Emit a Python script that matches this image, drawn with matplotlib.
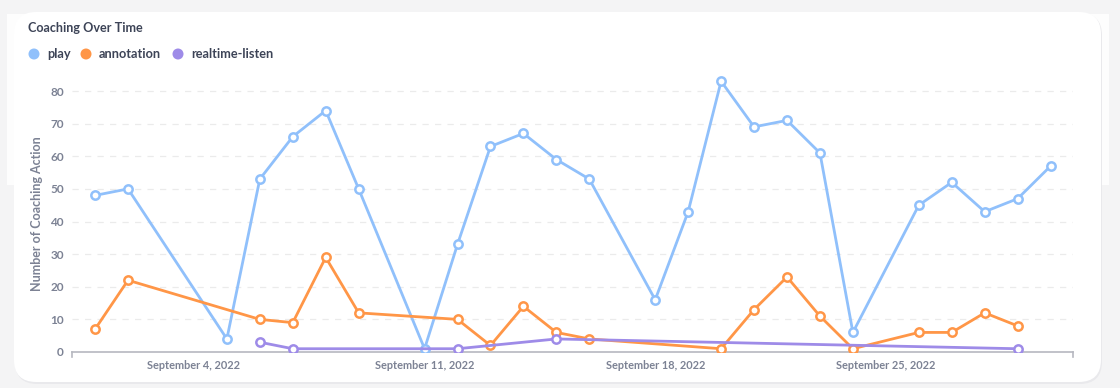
import matplotlib
matplotlib.use("Agg")
import matplotlib.pyplot as plt
import matplotlib.dates as mdates
from matplotlib.patches import FancyBboxPatch, Rectangle, Ellipse
from datetime import datetime, timedelta

plt.rcParams['font.family'] = ['Lato', 'DejaVu Sans']

# dados
play_days = [1, 2, 5, 6, 7, 8, 9, 11, 12, 13, 14, 15, 16, 18, 19, 20, 21, 22, 23, 24, 26, 27, 28, 29, 30]
play_vals = [48, 50, 4, 53, 66, 74, 50, 1, 33, 63, 67, 59, 53, 16, 43, 83, 69, 71, 61, 6, 45, 52, 43, 47, 57]

annot_days = [1, 2, 6, 7, 8, 9, 12, 13, 14, 15, 16, 20, 21, 22, 23, 24, 26, 27, 28, 29]
annot_vals = [7, 22, 10, 9, 29, 12, 10, 2, 14, 6, 4, 1, 13, 23, 11, 1, 6, 6, 12, 8]

listen_days = [6, 7, 12, 15, 29]
listen_vals = [3, 1, 1, 4, 1]

tick_days = [4, 11, 18, 25]
y_ticks = [0, 10, 20, 30, 40, 50, 60, 70, 80]

series = [
    ('play', play_days, play_vals, '#90C0FB'),
    ('annotation', annot_days, annot_vals, '#FF9647'),
    ('realtime-listen', listen_days, listen_vals, '#9E8BE8'),
]

def to_date(d):
    return datetime(2022, 9, d)

W, H = 1120, 388
fig = plt.figure(figsize=(W / 100, H / 100), dpi=100)
fig.patch.set_facecolor('#f4f4f5')

# cartoes de fundo
fig.patches.append(Rectangle((7 / W, 1 - 185 / H), 1102 / W, 171 / H, transform=fig.transFigure,
                             facecolor='#fdfdfd', edgecolor='none', zorder=-3))
fig.patches.append(FancyBboxPatch((15 / W, 1 - 384 / H), 1087 / W, 371 / H, transform=fig.transFigure,
                                  boxstyle='round,pad=0,rounding_size=0.02', mutation_aspect=W / H,
                                  facecolor='#e9e9ec', edgecolor='none', zorder=-2))
fig.patches.append(FancyBboxPatch((14 / W, 1 - 382 / H), 1087 / W, 370 / H, transform=fig.transFigure,
                                  boxstyle='round,pad=0,rounding_size=0.02', mutation_aspect=W / H,
                                  facecolor='#ffffff', edgecolor='none', zorder=-1))

# eixo
ax_left, ax_right = 72, 1073
ax_bottom, ax_top = 352, 74.7
ax = fig.add_axes([ax_left / W, 1 - ax_bottom / H, (ax_right - ax_left) / W, (ax_bottom - ax_top) / H])
ax.set_facecolor('none')

for name, days, vals, color in series:
    ax.plot([to_date(d) for d in days], vals, color=color, linewidth=2,
            marker='o', markersize=6, markerfacecolor='white', markeredgecolor=color,
            markeredgewidth=1.8, zorder=3, solid_joinstyle='round')

ax.set_xlim(to_date(1) - timedelta(days=0.7), to_date(30) + timedelta(days=0.68))
ax.set_ylim(0, 85)

ax.set_yticks(y_ticks)
ax.set_xticks([to_date(d) for d in tick_days])
ax.xaxis.set_major_formatter(mdates.DateFormatter('%B %-d, %Y'))

for y in y_ticks[1:]:
    ax.axhline(y, color='#ebebeb', linewidth=0.9, linestyle=(0, (5, 5)), zorder=1)

for s in ['top', 'right', 'left']:
    ax.spines[s].set_visible(False)
ax.spines['bottom'].set_color('#b6b8c0')
ax.spines['bottom'].set_linewidth(1.2)
ax.tick_params(axis='both', length=0, colors='#7c8294')
ax.tick_params(axis='x', pad=6, labelsize=7.9)
ax.tick_params(axis='y', pad=6, labelsize=8.5)
for lbl in ax.get_xticklabels() + ax.get_yticklabels():
    lbl.set_fontweight('bold')

# pequenos traços nas pontas do eixo
for xe in [0, 1]:
    ax.plot([xe, xe], [0, -0.018], transform=ax.transAxes, color='#b6b8c0', linewidth=1.2, clip_on=False)

ax.set_ylabel('Number of Coaching Action', color='#7c8294', fontsize=9, fontweight='bold', labelpad=5)

# titulo e legenda
fig.text(28 / W, 1 - 28 / H, 'Coaching Over Time', fontsize=9.1, fontweight='bold',
         color='#3d4457', va='center', ha='left')

leg_x = [34, 86, 178]
for (name, days, vals, color), lx in zip(series, leg_x):
    fig.patches.append(Ellipse((lx / W, 1 - 54 / H), 11 / W, 11 / H,
                               transform=fig.transFigure, facecolor=color, edgecolor='none'))
    fig.text((lx + 13) / W, 1 - 54 / H, name, fontsize=9.2, fontweight='bold', color='#3d4457',
             va='center', ha='left')

fig.savefig('out.png', dpi=100)
